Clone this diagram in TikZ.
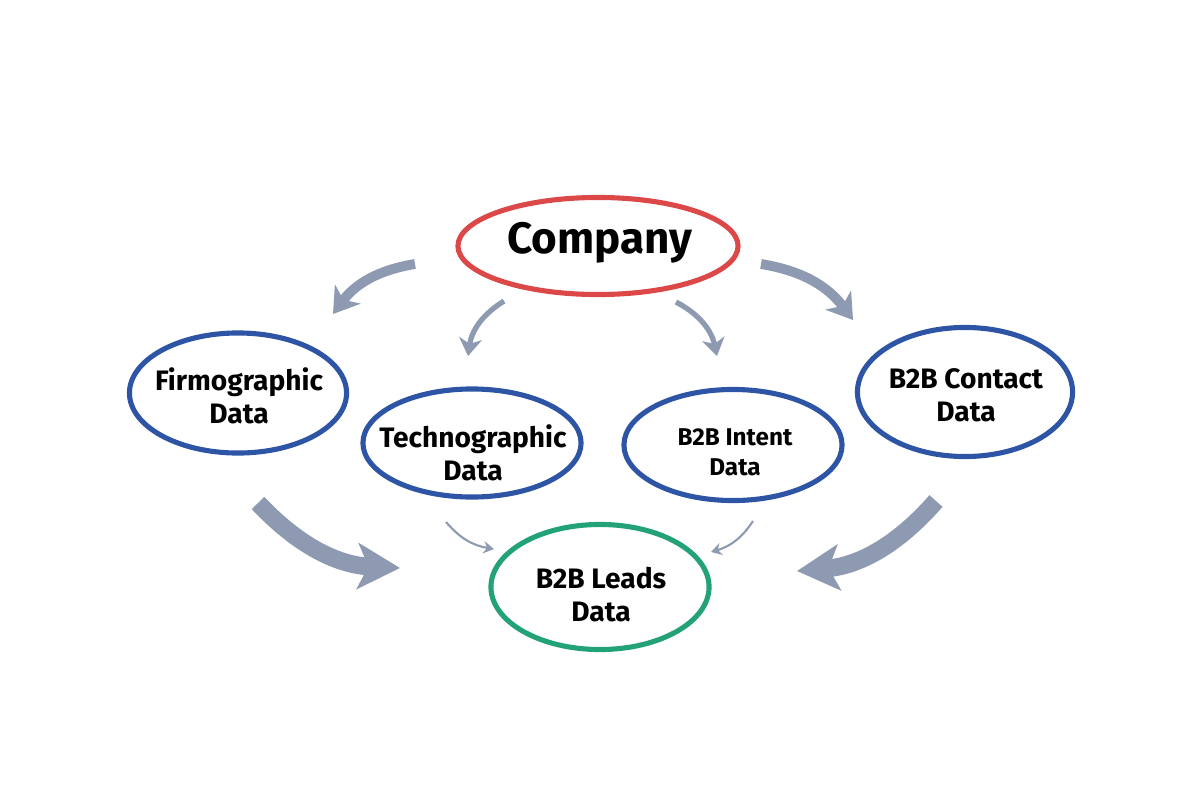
\documentclass[tikz,border=0pt]{standalone}
\usepackage{fontspec}
\setmainfont{Fira Sans}
\usetikzlibrary{shapes.geometric,arrows.meta}
\definecolor{cred}{HTML}{DC4848}
\definecolor{cblue}{HTML}{2E55A5}
\definecolor{cgreen}{HTML}{22A276}
\definecolor{carrow}{HTML}{8D9AB1}
\tikzset{
  oval/.style={ellipse, draw, line width=1.45pt, inner sep=0pt},
  lbl/.style={inner sep=0pt, align=center, font=\bfseries\fontsize{8}{9.4}\selectfont},
  flow/.style={draw=carrow, line cap=butt},
}
\begin{document}
\begin{tikzpicture}[x=0.01cm,y=-0.01cm]
\useasboundingbox (0,0) rectangle (1200,800);
% ovals
\node[oval, draw=cred, minimum width=2.80cm, minimum height=0.97cm] (comp) at (598,246) {};
\node[oval, draw=cblue, minimum width=2.17cm, minimum height=1.20cm] (firm) at (238,393) {};
\node[oval, draw=cblue, minimum width=2.18cm, minimum height=1.08cm] (tech) at (472,443) {};
\node[oval, draw=cblue, minimum width=2.18cm, minimum height=1.11cm] (intent) at (733,445) {};
\node[oval, draw=cblue, minimum width=2.15cm, minimum height=1.29cm] (contact) at (965,392) {};
\node[oval, draw=cgreen, minimum width=2.18cm, minimum height=1.25cm] (leads) at (600,587) {};
% labels
\node[lbl, font=\bfseries\fontsize{12.5}{14}\selectfont] (compt) at (600,243) {Company};
\node[lbl] (firmt) at (239,396) {Firmographic\\Data};
\node[lbl] (techt) at (473,453) {Technographic\\Data};
\node[lbl, font=\bfseries\fontsize{6.9}{8.6}\selectfont] (intentt) at (735,452) {B2B Intent\\Data};
\node[lbl] (contactt) at (966,395) {B2B Contact\\Data};
\node[lbl] (leadst) at (601,595) {B2B Leads\\Data};
% arrow end points
\coordinate (a1s) at (415,264); \coordinate (a1e) at (333,314);
\coordinate (a2s) at (504,301); \coordinate (a2e) at (468,356);
\coordinate (a3s) at (676,302); \coordinate (a3e) at (717,356);
\coordinate (a4s) at (761,264); \coordinate (a4e) at (853,320);
\coordinate (a5s) at (258,503); \coordinate (a5e) at (400,568);
\coordinate (a6s) at (936,501); \coordinate (a6e) at (797,571);
\coordinate (a7s) at (446,522); \coordinate (a7e) at (494,549);
\coordinate (a8s) at (753,521); \coordinate (a8e) at (711,552);
% arrows
\draw[flow, line width=2.8pt, -{Stealth[length=7pt,width=9pt,inset=2pt]}] (a1s) to[bend right=22] (a1e);
\draw[flow, line width=1.5pt, -{Stealth[length=5pt,width=6.5pt,inset=1.5pt]}] (a2s) to[bend right=25] (a2e);
\draw[flow, line width=1.5pt, -{Stealth[length=5pt,width=6.5pt,inset=1.5pt]}] (a3s) to[bend left=25] (a3e);
\draw[flow, line width=2.8pt, -{Stealth[length=7pt,width=9pt,inset=2pt]}] (a4s) to[bend left=22] (a4e);
\draw[flow, line width=5pt, -{Stealth[length=12pt,width=13pt,inset=3pt]}] (a5s) to[bend right=22] (a5e);
\draw[flow, line width=5pt, -{Stealth[length=12pt,width=13pt,inset=3pt]}] (a6s) to[bend left=22] (a6e);
\draw[flow, line width=0.6pt, -{Stealth[length=3pt,width=3.5pt,inset=1pt]}] (a7s) to[bend right=20] (a7e);
\draw[flow, line width=0.6pt, -{Stealth[length=3pt,width=3.5pt,inset=1pt]}] (a8s) to[bend left=20] (a8e);
\end{tikzpicture}
\end{document}
